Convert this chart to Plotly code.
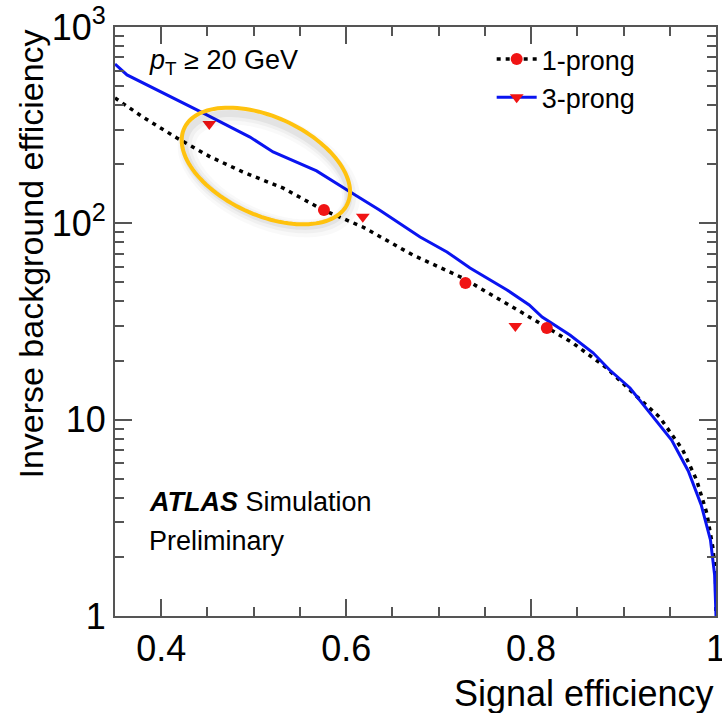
import numpy as np
import plotly.graph_objects as go

# ---- data ----
x_3prong = [0.35, 0.363, 0.445, 0.496, 0.521, 0.568, 0.601, 0.636, 0.680, 0.709, 0.734, 0.755,
            0.774, 0.798, 0.812, 0.842, 0.867, 0.885, 0.907, 0.928, 0.952, 0.970, 0.984, 0.994,
            0.9985, 1.0]
y_3prong = [648, 570, 365, 275, 231, 185, 148, 117, 85.2, 71.5, 59.2, 51.5,
            45.8, 38.4, 33.3, 27.0, 21.9, 17.9, 14.5, 10.9, 7.88, 5.48, 3.68, 2.44,
            1.62, 1.0]

x_1prong = [0.35, 0.380, 0.417, 0.453, 0.488, 0.532, 0.575, 0.618, 0.672, 0.726, 0.791, 0.845,
            0.882, 0.910, 0.939, 0.964, 0.979, 0.990, 0.9965, 0.9995, 1.0]
y_1prong = [435, 348, 272, 218, 183, 151, 117, 95.8, 69.0, 52.7, 34.9, 24.6,
            18.3, 13.7, 10.3, 7.01, 4.93, 3.35, 2.25, 1.66, 1.0]

wp_x_1prong = [0.576, 0.729, 0.817]
wp_y_1prong = [117, 49.7, 29.3]
wp_x_3prong = [0.452, 0.618, 0.783]
wp_y_3prong = [321, 108, 30.0]

x_tickvals = [0.4, 0.6, 0.8, 1.0]
x_ticktext = ["0.4", "0.6", "0.8", "1"]
y_tickvals = [1, 10, 100, 1000]
y_ticktext = ["1", "10", "10<sup>2</sup>", "10<sup>3</sup>"]

FONT = "Liberation Sans, Arial, Helvetica, sans-serif"
W, H = 722, 713
L, R, T, B = 115, 5.5, 27, 97
PW, PH = W - L - R, H - T - B

fig = go.Figure()

fig.add_trace(go.Scatter(x=x_1prong, y=y_1prong, mode="lines",
                         line=dict(color="black", width=3.5, dash="4px,5px"),
                         showlegend=False, hoverinfo="skip"))
fig.add_trace(go.Scatter(x=x_3prong, y=y_3prong, mode="lines",
                         line=dict(color="#0a14f0", width=3),
                         showlegend=False, hoverinfo="skip"))
fig.add_trace(go.Scatter(x=wp_x_1prong, y=wp_y_1prong, mode="markers",
                         marker=dict(symbol="circle", size=12, color="#f01414"),
                         showlegend=False))
fig.add_trace(go.Scatter(x=wp_x_3prong, y=wp_y_3prong, mode="markers",
                         marker=dict(symbol="triangle-down", size=12, color="#f01414"),
                         showlegend=False))
# legend entries
fig.add_trace(go.Scatter(x=[None], y=[None], mode="lines+markers", name="1-prong",
                         line=dict(color="black", width=3.5, dash="4px,5px"),
                         marker=dict(symbol="circle", size=12, color="#f01414")))
fig.add_trace(go.Scatter(x=[None], y=[None], mode="lines+markers", name="3-prong",
                         line=dict(color="#0a14f0", width=3),
                         marker=dict(symbol="triangle-down", size=12, color="#f01414")))

# highlight ellipse (pixel geometry -> paper coords)
def ellipse_path(cx, cy, a, b, theta_deg, n=120):
    t = np.linspace(0, 2 * np.pi, n)
    th = np.radians(theta_deg)
    px = cx + a * np.cos(t) * np.cos(th) - b * np.sin(t) * np.sin(th)
    py = cy + a * np.cos(t) * np.sin(th) + b * np.sin(t) * np.cos(th)
    xp = (px - L) / PW
    yp = (H - B - py) / PH
    d = "M " + " L ".join(f"{u:.5f},{v:.5f}" for u, v in zip(xp, yp)) + " Z"
    return d

shapes = []
for w_, op, dx, dy in [(18, 0.025, 3, 6), (12, 0.035, 2, 5), (7, 0.05, 1, 4)]:
    shapes.append(dict(type="path", xref="paper", yref="paper",
                       path=ellipse_path(266 + dx, 166 + dy, 88, 47, 24.8),
                       line=dict(color=f"rgba(0,0,0,{op})", width=w_)))
shapes.append(dict(type="path", xref="paper", yref="paper",
                   path=ellipse_path(266, 166, 90, 49, 24.8),
                   line=dict(color="#ffc20e", width=4)))

annotations = [
    dict(text="<i>p</i><sub>T</sub> ≥ 20 GeV", x=147, y=62),
    dict(text="<b><i>ATLAS</i></b> Simulation", x=147, y=502),
    dict(text="Preliminary", x=147, y=541),
]
ann = []
for a_ in annotations:
    ann.append(dict(text=a_["text"], xref="paper", yref="paper",
                    x=(a_["x"] - L) / PW, y=(H - B - a_["y"]) / PH,
                    xanchor="left", yanchor="middle", showarrow=False,
                    font=dict(family=FONT, size=27, color="black")))
ann.append(dict(text="Signal efficiency", xref="paper", yref="paper",
                x=1.0, y=(H - B - 693) / PH, xanchor="right", yanchor="middle",
                showarrow=False, font=dict(family=FONT, size=36, color="black")))
ann.append(dict(text="Inverse background efficiency", xref="paper", yref="paper",
                x=(30 - L) / PW, y=(H - B - 28) / PH, xanchor="center", yanchor="top",
                textangle=-90, showarrow=False,
                font=dict(family=FONT, size=34, color="black")))

axis_common = dict(showgrid=False, zeroline=False, showline=True, linecolor="#555555",
                   linewidth=2, ticks="inside", ticklen=17, tickwidth=1.5, tickcolor="#555555",
                   mirror="allticks", ticklabeloverflow="allow", automargin=False,
                   tickfont=dict(family=FONT, size=36, color="black"))

fig.update_layout(
    width=W, height=H,
    margin=dict(l=L, r=R, t=T, b=B, autoexpand=False),
    paper_bgcolor="white", plot_bgcolor="white",
    xaxis=dict(range=[0.35, 1.0], tickvals=x_tickvals, ticktext=x_ticktext,
               minor=dict(ticks="inside", ticklen=9, dtick=0.05, tick0=0.35,
                          tickcolor="#555555", tickwidth=1.5),
               **axis_common),
    yaxis=dict(type="log", range=[0, 3], tickvals=y_tickvals, ticktext=y_ticktext,
               minor=dict(ticks="inside", ticklen=9, dtick="D1",
                          tickcolor="#555555", tickwidth=1.5),
               **axis_common),
    legend=dict(x=(492 - L) / PW, y=(H - B - 35) / PH, xanchor="left", yanchor="top",
                bgcolor="rgba(0,0,0,0)", font=dict(family=FONT, size=27, color="black"),
                itemwidth=40, tracegroupgap=0),
    shapes=shapes,
    annotations=ann,
    showlegend=True,
)

fig.write_html("out.html", config={"displayModeBar": False},
               post_script="document.body.style.margin='0';document.body.style.overflow='hidden';")
